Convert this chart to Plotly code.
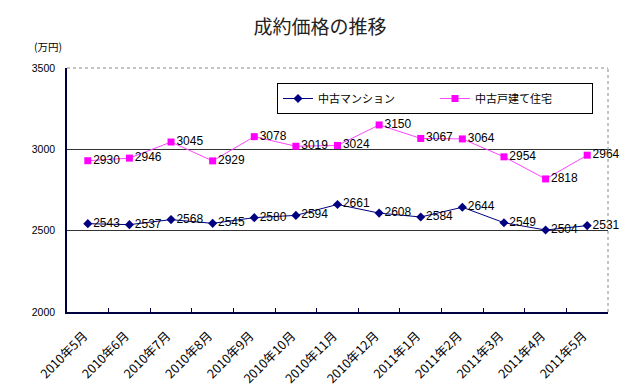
import plotly.graph_objects as go

months = ["2010年5月", "2010年6月", "2010年7月", "2010年8月", "2010年9月", "2010年10月",
          "2010年11月", "2010年12月", "2011年1月", "2011年2月", "2011年3月", "2011年4月", "2011年5月"]
mansion = [2543, 2537, 2568, 2545, 2580, 2594, 2661, 2608, 2584, 2644, 2549, 2504, 2531]
kodate = [2930, 2946, 3045, 2929, 3078, 3019, 3024, 3150, 3067, 3064, 2954, 2818, 2964]

font_jp = "Noto Sans CJK JP, Liberation Sans, sans-serif"
num_font = "Liberation Sans, Arial, sans-serif"

fig = go.Figure()
fig.add_trace(go.Scatter(
    x=months, y=mansion, name="中古マンション", mode="lines+markers+text",
    line=dict(color="#000080", width=1),
    marker=dict(symbol="diamond", size=7, color="#000080"),
    text=[str(v) for v in mansion], textposition="middle right",
    textfont=dict(size=12, color="#000000", family=num_font),
    cliponaxis=False,
))
fig.add_trace(go.Scatter(
    x=months, y=kodate, name="中古戸建て住宅", mode="lines+markers+text",
    line=dict(color="#FF44FF", width=1),
    marker=dict(symbol="square", size=7, color="#FF00FF"),
    text=[str(v) for v in kodate], textposition="middle right",
    textfont=dict(size=12, color="#000000", family=num_font),
    cliponaxis=False,
))

fig.update_layout(
    width=640, height=386,
    margin=dict(l=67, r=32, t=68, b=74, autoexpand=False),
    paper_bgcolor="white", plot_bgcolor="white",
    font=dict(family=font_jp, color="black"),
    title=dict(text="成約価格の推移", x=0.5, xanchor="center", y=0.93, yanchor="middle",
               font=dict(size=19, family=font_jp, color="#222222")),
    showlegend=True,
    legend=dict(orientation="h", x=(277 - 67) / 541, y=(312 - 83) / 244, xanchor="left", yanchor="top",
                bordercolor="black", borderwidth=1, bgcolor="white",
                font=dict(size=11, family=font_jp),
                entrywidth=112, entrywidthmode="pixels",
                itemwidth=30),
    xaxis=dict(
        type="category", tickangle=-45, tickson="boundaries",
        ticks="inside", ticklen=4, tickcolor="#000040",
        showline=True, linecolor="#000040", linewidth=1.5,
        showgrid=False, range=[-0.5, 12.5],
        tickfont=dict(size=12.5, family=font_jp),
        ticklabelshift=-4, ticklabelstandoff=10,
    ),
    yaxis=dict(
        range=[2000, 3500], dtick=500, showgrid=True, gridcolor="#333333", gridwidth=1,
        showline=True, linecolor="#000040", linewidth=1.5,
        ticks="", tickfont=dict(size=10.5, family=num_font),
        zeroline=False, ticklabelstandoff=8,
    ),
    annotations=[dict(text="(万円)", x=(32 - 67) / 541, y=(312 - 46) / 244, xref="paper", yref="paper",
                      showarrow=False, xanchor="left", yanchor="middle",
                      font=dict(size=10.5, family=font_jp))],
    shapes=[
        dict(type="line", xref="paper", yref="paper", x0=0, x1=1, y0=1, y1=1,
             line=dict(color="#888888", width=1, dash="dot")),
        dict(type="line", xref="paper", yref="paper", x0=1, x1=1, y0=0, y1=1,
             line=dict(color="#888888", width=1, dash="dot")),
    ],
)

fig.write_html("out.html", post_script="document.body.style.margin='0';",
               config={"displayModeBar": False})
